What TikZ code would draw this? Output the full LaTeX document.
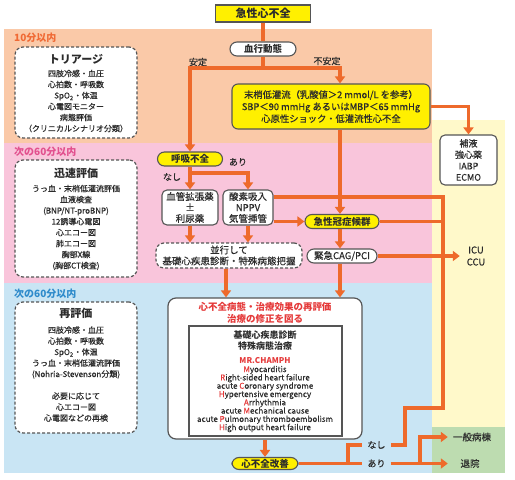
\documentclass[tikz,border=0pt]{standalone}
\usepackage{fontspec}
\setmainfont{Noto Sans CJK JP}[UprightFeatures={FakeBold=0.5}]
\newfontfamily\plainjp{Noto Sans CJK JP}[UprightFeatures={FakeBold=0.2}]
\usetikzlibrary{arrows.meta,calc}
\definecolor{peach}{HTML}{FAC9A8}
\definecolor{pinkbg}{HTML}{F9C5DB}
\definecolor{bluebg}{HTML}{C9E5F4}
\definecolor{ylwbg}{HTML}{FFF9CA}
\definecolor{grnbg}{HTML}{BDDCB0}
\definecolor{orng}{HTML}{EE6A2B}
\definecolor{ylw}{HTML}{FFF000}
\definecolor{dk}{HTML}{555555}
\definecolor{txt}{HTML}{2B2B2B}
\definecolor{redt}{HTML}{E53A3A}
\definecolor{lblA}{HTML}{F06A35}
\definecolor{lblB}{HTML}{E2508E}
\definecolor{lblC}{HTML}{2E8BCB}
\newcommand\fsz[2]{\fontsize{#1}{#2}\selectfont}
\newcommand\tightls{\lineskiplimit=-10pt\relax}
\begin{document}
\begin{tikzpicture}[x=1pt,y=-1pt,
  every node/.style={text=txt,inner sep=0pt},
  line/.style={draw=orng,line width=3.6pt},
  arr/.style={line,-{Triangle[length=7pt,width=10pt]}},
  ybase/.style={draw=dk,line width=1.1pt,fill=ylw,font=\bfseries\fsz{9.5}{11},align=center},
  ypill/.style={ybase,rounded corners=7pt},
  wbox/.style={draw=dk,line width=1.1pt,fill=white,rounded corners=5pt,align=center,font=\fsz{9.5}{11}},
  wpill/.style={wbox,rounded corners=7pt,font=\bfseries\fsz{9.5}{11}},
  dbox/.style={draw=dk,line width=1.2pt,dash pattern=on 3pt off 2pt,fill=white,rounded corners=8pt},
  ttl/.style={font=\bfseries\fsz{11}{13}},
  items/.style={align=center,font=\fsz{8}{11}},
  lab/.style={font=\fsz{9}{11}},
  sect/.style={font=\bfseries\fsz{10}{12},anchor=west},
  sz/.style n args={2}{minimum width=#1pt,minimum height=#2pt}
]
\useasboundingbox (0,0) rectangle (515,480);
% backgrounds
\fill[peach] (4,29) rectangle (432,143);
\fill[pinkbg] (4,143) rectangle (432,283);
\fill[bluebg] (4,283) rectangle (432,473);
\fill[ylwbg] (432,120) rectangle (505,427);
\fill[grnbg] (432,427) rectangle (505,473);
% section labels
\node[sect,text=lblA] (secA) at (14,38) {10分以内};
\node[sect,text=lblB] (secB) at (14,152) {次の60分以内};
\node[sect,text=lblC] (secC) at (14,294) {次の60分以内};
% left dashed boxes
\node[dbox,sz={122}{91}] (tri) at (76,92.5) {};
\node[ttl] (triT) at (76,59) {トリアージ};
\node[items] (triI) at (76,101) {四肢冷感・血圧\\心拍数・呼吸数\\SpO\textsubscript{2}・体温\\心電図モニター\\病態評価\\（クリニカルシナリオ分類）};
\node[dbox,sz={122}{117}] (rap) at (76,218.5) {};
\node[ttl] (rapT) at (76,173) {迅速評価};
\node[items] (rapI) at (76,227.5) {うっ血・末梢低灌流評価\\血液検査\\(BNP/NT-proBNP)\\12誘導心電図\\心エコー図\\肺エコー図\\胸部X線\\(胸部CT検査)};
\node[dbox,sz={122}{131}] (rev) at (76,367.5) {};
\node[ttl] (revT) at (76,313) {再評価};
\node[items] (revI) at (76,374) {四肢冷感・血圧\\心拍数・呼吸数\\SpO\textsubscript{2}・体温\\うっ血・末梢低灌流評価\\(Nohria-Stevenson分類)\\[11pt]必要に応じて\\心エコー図\\心電図などの再検};
% flow nodes
\node[ybase,sz={95}{17},font=\bfseries\fsz{11}{13}] (ahf) at (263,13.5) {急性心不全};
\node[wpill,sz={66}{14}] (hk) at (263,49) {血行動態};
\node[lab] (lstab) at (198,62) {安定};
\node[lab] (lunst) at (327,61) {不安定};
\node[ybase,rounded corners=6pt,sz={198}{45},font=\fsz{9.3}{12}] (shock) at (331,106.5) {末梢低灌流（乳酸値＞2 mmol/L を参考）\\SBP＜90 mmHg あるいはMBP＜65 mmHg\\心原性ショック・低灌流性心不全};
\node[wbox,sz={57}{50},font=\fsz{9}{11.3}] (hoeki) at (468.5,160) {補液\\強心薬\\IABP\\ECMO};
\node[ypill,sz={65}{14}] (kokyu) at (190,159) {呼吸不全};
\node[lab] (lari1) at (238,162) {あり};
\node[lab] (lnashi1) at (172,177) {なし};
\node[wbox,sz={56}{35}] (vaso) at (190,207.5) {血管拡張薬\\±\\利尿薬};
\node[wbox,sz={50}{35}] (oxy) at (248,207.5) {酸素吸入\\NPPV\\気管挿管};
\node[ypill,sz={74}{14}] (acs) at (342,221.5) {急性冠症候群};
\node[wpill,sz={70}{14},font=\fsz{9.5}{11}] (cag) at (342,256) {緊急CAG/PCI};
\node[dbox,sz={146}{25},align=center,font=\fsz{9.5}{11}] (para) at (229,255.5) {並行して\\基礎心疾患診断・特殊病態把握};
\node[align=center,font=\fsz{9.5}{12},minimum width=32pt] (icu) at (476,256) {ICU\\CCU};
\node[draw=dk,line width=1.2pt,fill=white,rounded corners=8pt,sz={194}{141}] (big) at (265,368.5) {};
\node[align=center,font=\bfseries\fsz{9.5}{12},text=redt] (rt) at (265,312.5) {心不全病態・治療効果の再評価\\治療の修正を図る};
\node[draw=dk,line width=1.1pt,fill=white,sz={153}{110}] (inn) at (265.5,381) {};
\node[align=center,font=\bfseries\fsz{9}{11}] (h1) at (265,340.5) {基礎心疾患診断\\特殊病態治療};
\node[align=center,font={\plainjp\fsz{8}{8.3}\tightls}] (mr) at (265,395) {\textcolor{redt}{\bfseries MR.CHAMPH}\\
\textcolor{redt}{M}yocarditis\\
\textcolor{redt}{R}ight-sided heart failure\\
acute \textcolor{redt}{C}oronary syndrome\\
\textcolor{redt}{H}ypertensive emergency\\
\textcolor{redt}{A}rrhythmia\\
acute \textcolor{redt}{M}echanical cause\\
acute \textcolor{redt}{P}ulmonary thromboembolism\\
\textcolor{redt}{H}igh output heart failure};
\node[ypill,sz={66}{12}] (kaizen) at (265,463.5) {心不全改善};
\node[lab,inner xsep=5pt,inner ysep=1pt] (nashi) at (376.5,445) {なし};
\node[lab,inner xsep=5pt,inner ysep=1pt] (ari) at (376.5,463.5) {あり};
\node[font=\fsz{9.5}{11},minimum width=48pt] (ippan) at (472,437) {一般病棟};
\node[font=\fsz{9.5}{11},minimum width=44pt] (taiin) at (470,463.5) {退院};
% connectors
\coordinate (s1) at (263,68);
\coordinate (vx) at (340,0);
\coordinate (px) at (226,0);
\coordinate (j2) at (190,173);
\coordinate (r1) at (443,197);
\coordinate (r2) at (443,408);
\coordinate (r3) at (405,408);
\coordinate (r4) at (405,445);
\coordinate (t1) at (348,463.5);
\coordinate (b1) at (420,463.5);
\draw[line] (ahf.south) -- (hk.north);
\draw[line] (hk.south) -- (s1);
\draw[arr] (s1) -| (kokyu.north);
\draw[arr] (s1) -| (shock.north -| vx);
\draw[arr] (shock.east) -| (hoeki.north);
\draw[line] (oxy.east |- r1) -- (r1) -- (r2) -- (r3) -- (r4) -- (nashi.east);
\draw[line] (acs.east) -- (acs.east -| r1);
\draw[arr] (shock.south -| vx) -- (acs.north -| vx);
\draw[arr] (acs.south -| vx) -- (cag.north -| vx);
\draw[arr] (cag.south -| vx) -- (big.north -| vx);
\draw[arr] (kokyu.south) -- (vaso.north);
\draw[arr] (j2) -| (oxy.north);
\draw[arr] (vaso.south) -- (vaso.south |- para.north);
\draw[arr] (oxy.south) -- (oxy.south |- para.north);
\draw[arr] (para.south -| px) -- (big.north -| px);
\draw[arr] (oxy.east |- acs.west) -- (acs.west);
\draw[arr] (cag.east) -- (icu.west);
\draw[arr] (big.south) -- (kaizen.north);
\draw[line] (kaizen.east) -- (ari.west);
\draw[line] (t1) |- (nashi.west);
\draw[arr] (ari.east) -- (taiin.west);
\draw[arr] (b1) |- (ippan.west);
\end{tikzpicture}
\end{document}
